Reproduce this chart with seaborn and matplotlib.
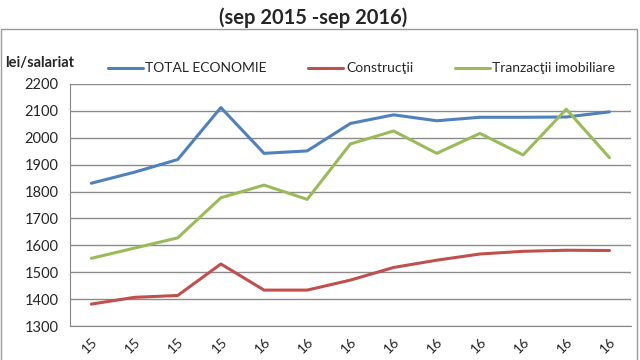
import pandas as pd
import seaborn as sns
import matplotlib.pyplot as plt
from matplotlib.patches import Rectangle

# date (lei/salariat), sep 2015 - sep 2016
luni = ["sep.15", "oct.15", "nov.15", "dec.15", "ian.16", "feb.16", "mar.16",
        "apr.16", "mai.16", "iun.16", "iul.16", "aug.16", "sep.16"]
# only the year part of each label is visible in the picture
etichete = ["15", "15", "15", "15", "16", "16", "16", "16", "16", "16", "16", "16", "16"]
total_economie = [1831, 1872, 1919, 2112, 1942, 1951, 2053, 2085, 2063, 2076, 2076, 2077, 2096]
constructii = [1382, 1407, 1414, 1531, 1434, 1434, 1471, 1518, 1545, 1568, 1578, 1582, 1581]
tranzactii = [1552, 1590, 1628, 1777, 1824, 1771, 1977, 2025, 1942, 2016, 1936, 2106, 1926]
serii = ["TOTAL ECONOMIE", "Construcţii", "Tranzacţii imobiliare"]
culori = ["#4F81BD", "#C0504D", "#9BBB59"]

df = pd.DataFrame({"luna": luni * 3,
                   "valoare": total_economie + constructii + tranzactii,
                   "serie": [serii[0]] * 13 + [serii[1]] * 13 + [serii[2]] * 13})

sns.set_style("white")
plt.rcParams["font.family"] = ["Lato", "DejaVu Sans"]

fig = plt.figure(figsize=(6.4, 3.6), dpi=100)
ax = fig.add_axes([0.109, 0.094, 0.877, 0.673])
sns.lineplot(data=df, x="luna", y="valoare", hue="serie", palette=culori,
             linewidth=2.2, ax=ax, legend=True)

ax.set_ylim(1300, 2200)
ax.set_yticks(range(1300, 2201, 100))
ax.set_xlim(-0.5, 12.5)
ax.set_xticks(range(13))
ax.set_xticklabels(etichete, rotation=45, ha="right", rotation_mode="anchor", fontsize=10)
ax.set_xticks([i - 0.5 for i in range(14)], minor=True)
ax.tick_params(axis="x", which="major", length=0, pad=7)
ax.tick_params(axis="x", which="minor", length=5, color="#868686", direction="out")
ax.tick_params(axis="y", labelsize=10.5, length=0, pad=8)
ax.grid(axis="y", color="#8c8c8c", linewidth=1)
ax.set_axisbelow(True)
for s in ["top", "right"]:
    ax.spines[s].set_visible(False)
for s in ["left", "bottom"]:
    ax.spines[s].set_color("#868686")
ax.set_xlabel("")
ax.set_ylabel("")

handles, labels = ax.get_legend_handles_labels()
ax.legend_.remove()
fig.legend(handles, labels, loc="center", bbox_to_anchor=(0.565, 0.81), ncol=3,
           frameon=False, fontsize=10, handlelength=2.5, handletextpad=0.2,
           columnspacing=3.0)

fig.text(0.49, 0.95, "(sep 2015 -sep 2016)", ha="center", va="center",
         fontsize=14.5, fontweight="bold")
fig.text(0.008, 0.825, "lei/salariat", ha="left", va="center",
         fontsize=10.5, fontweight="bold")
fig.patches.append(Rectangle((0.002, -0.01), 0.994, 0.93, transform=fig.transFigure,
                             fill=False, edgecolor="#9a9a9a", linewidth=1))

fig.savefig("out.png", dpi=100)
